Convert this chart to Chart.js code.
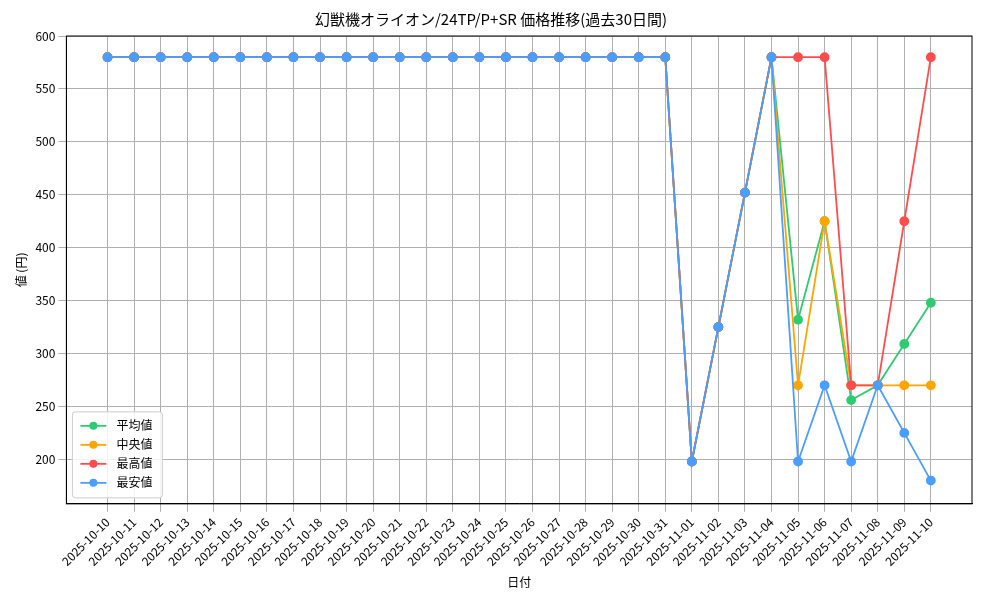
<!DOCTYPE html>
<html>
<head>
<meta charset="utf-8">
<script src="https://cdn.jsdelivr.net/npm/chart.js@4/dist/chart.umd.min.js"></script>
<style>
body { margin: 0; background: #fff; }
#wrap { width: 1000px; height: 600px; }
</style>
</head>
<body>
<div id="wrap"><canvas id="priceChart"></canvas></div>
<script>
const dates = [
    '2025-10-10', '2025-10-11', '2025-10-12', '2025-10-13', '2025-10-14', '2025-10-15',
    '2025-10-16', '2025-10-17', '2025-10-18', '2025-10-19', '2025-10-20', '2025-10-21',
    '2025-10-22', '2025-10-23', '2025-10-24', '2025-10-25', '2025-10-26', '2025-10-27',
    '2025-10-28', '2025-10-29', '2025-10-30', '2025-10-31', '2025-11-01', '2025-11-02',
    '2025-11-03', '2025-11-04', '2025-11-05', '2025-11-06', '2025-11-07', '2025-11-08',
    '2025-11-09', '2025-11-10'
];
const flat = [580, 580, 580, 580, 580, 580, 580, 580, 580, 580, 580, 580, 580, 580, 580, 580, 580, 580, 580, 580, 580, 580];
const avgPrice = flat.concat([198, 325, 452, 580, 332, 425, 256, 270, 309, 348]);
const medianPrice = flat.concat([198, 325, 452, 580, 270, 425, 270, 270, 270, 270]);
const maxPrice = flat.concat([198, 325, 452, 580, 580, 580, 270, 270, 425, 580]);
const minPrice = flat.concat([198, 325, 452, 580, 198, 270, 198, 270, 225, 180]);
const yTicks = [200, 250, 300, 350, 400, 450, 500, 550, 600];

const font = "'Noto Sans CJK JP', 'DejaVu Sans'";

function series(label, data, color, order) {
    return {
        label: label,
        data: data.map((v, i) => ({ x: i, y: v })),
        borderColor: color,
        backgroundColor: color,
        pointBackgroundColor: color,
        pointBorderColor: color,
        pointRadius: 4,
        borderWidth: 1.8,
        tension: 0,
        order: order
    };
}

// legend box in the lower left corner of the plot, plus the frame
const innerLegend = {
    id: 'innerLegend',
    afterDraw(chart) {
        const ctx = chart.ctx;
        const area = chart.chartArea;
        const items = chart.data.datasets;
        ctx.save();
        ctx.strokeStyle = '#000';
        ctx.lineWidth = 1;
        ctx.strokeRect(area.left, area.top, area.right - area.left, area.bottom - area.top);
        const x = area.left + 6, h = 19 * items.length + 10, y = area.bottom - 6 - h;
        ctx.fillStyle = 'rgba(255,255,255,0.85)';
        ctx.strokeStyle = '#cccccc';
        ctx.beginPath();
        ctx.roundRect(x, y, 90, h, 3);
        ctx.fill();
        ctx.stroke();
        ctx.font = '12px ' + font;
        ctx.textBaseline = 'middle';
        items.forEach(function (ds, i) {
            const cy = y + 14 + i * 19;
            ctx.strokeStyle = ds.borderColor;
            ctx.lineWidth = 1.8;
            ctx.beginPath();
            ctx.moveTo(x + 8, cy);
            ctx.lineTo(x + 34, cy);
            ctx.stroke();
            ctx.fillStyle = ds.borderColor;
            ctx.beginPath();
            ctx.arc(x + 21, cy, 4, 0, Math.PI * 2);
            ctx.fill();
            ctx.fillStyle = '#000';
            ctx.fillText(ds.label, x + 44, cy);
        });
        ctx.restore();
    }
};

new Chart(document.getElementById('priceChart'), {
    type: 'line',
    data: {
        datasets: [
            series('平均値', avgPrice, '#2ecc71', 4),
            series('中央値', medianPrice, '#ffa500', 3),
            series('最高値', maxPrice, '#ff4d4d', 2),
            series('最安値', minPrice, '#4a9eff', 1)
        ]
    },
    options: {
        responsive: true,
        maintainAspectRatio: false,
        animation: false,
        layout: { padding: { left: 10, right: 28, top: 4, bottom: 6 } },
        plugins: {
            legend: { display: false },
            tooltip: { enabled: false },
            title: {
                display: true,
                text: '幻獣機オライオン/24TP/P+SR 価格推移(過去30日間)',
                color: '#000',
                font: { family: font, size: 15, weight: 'normal' },
                padding: { top: 6, bottom: 8 }
            }
        },
        scales: {
            x: {
                type: 'linear',
                min: -1.55,
                max: dates.length - 1 + 1.55,
                afterBuildTicks: function (axis) {
                    axis.ticks = dates.map((d, i) => ({ value: i }));
                },
                grid: { color: '#b0b0b0' },
                border: { color: '#000' },
                ticks: {
                    color: '#000', maxRotation: 45, minRotation: 45, autoSkip: false,
                    font: { family: font, size: 12 },
                    callback: function (v) { return dates[v]; }
                },
                title: { display: true, text: '日付', color: '#000', font: { family: font, size: 12 } }
            },
            y: {
                min: 158,
                max: 600,
                afterBuildTicks: function (axis) {
                    axis.ticks = yTicks.map(v => ({ value: v }));
                },
                grid: { color: '#b0b0b0' },
                border: { color: '#000' },
                ticks: { color: '#000', font: { family: font, size: 12 } },
                title: { display: true, text: '値 (円)', color: '#000', font: { family: font, size: 12 } }
            }
        }
    },
    plugins: [innerLegend]
});
</script>
</body>
</html>
